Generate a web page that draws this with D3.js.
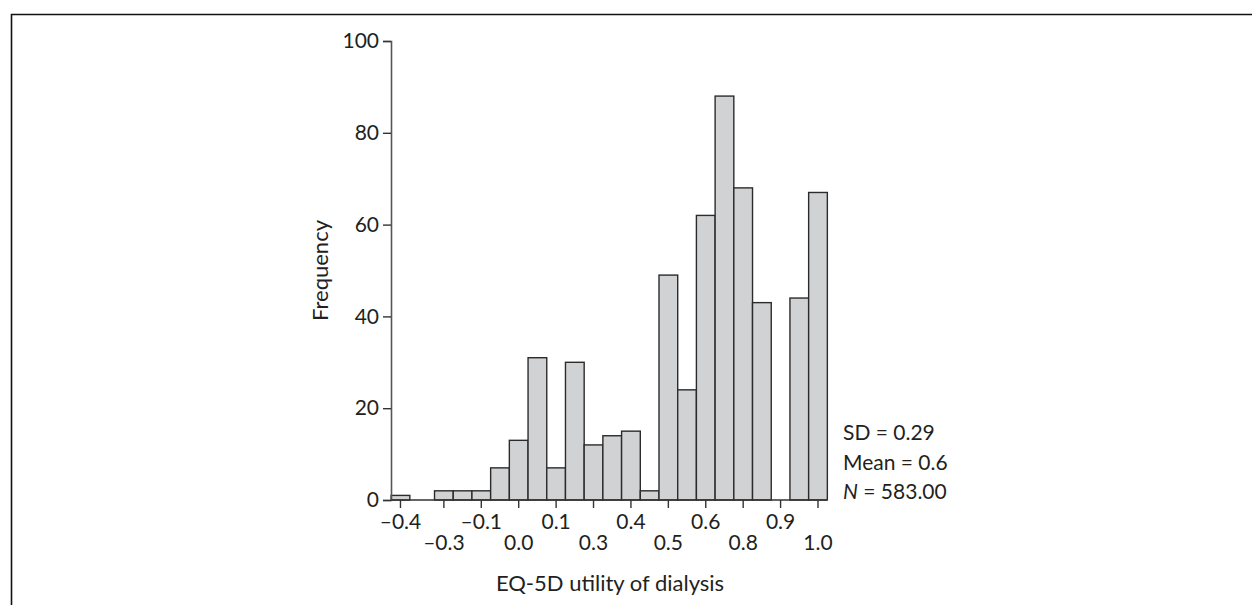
<!DOCTYPE html>
<html>
<head>
<meta charset="utf-8">
<script src="https://cdn.jsdelivr.net/npm/d3@7"></script>
<style>
  html, body { margin: 0; padding: 0; background: #fff; }
  svg { display: block; font-family: Lato, "Open Sans", sans-serif; }
</style>
</head>
<body>
<svg id="chart" width="1252" height="605"></svg>
<script>
// ---- data ----
const binCenters = [-0.395, -0.25, -0.1875, -0.125, -0.0625, 0.0, 0.0625, 0.125, 0.1875, 0.25,
                    0.3125, 0.375, 0.4375, 0.5, 0.5625, 0.625, 0.6875, 0.75, 0.8125, 0.875, 0.9375, 1.0];
const frequencies = [1, 2, 2, 2, 7, 13, 31, 7, 30, 12,
                     14, 15, 2, 49, 24, 62, 88, 68, 43, 0, 44, 67];
const binWidth = 0.0625;
const xTickValues = [-0.395, -0.25, -0.125, 0.0, 0.125, 0.25, 0.375, 0.5, 0.625, 0.75, 0.875, 1.0];
const xTickLabels = ["\u20130.4", "\u20130.3", "\u20130.1", "0.0", "0.1", "0.3", "0.4", "0.5", "0.6", "0.8", "0.9", "1.0"];
const yTickValues = [0, 20, 40, 60, 80, 100];
const yTickLabels = ["0", "20", "40", "60", "80", "100"];
const statsLines = [["SD", " = 0.29"], ["Mean", " = 0.6"], ["N", " = 583.00"]];
const xTitle = "EQ-5D utility of dialysis";
const yTitle = "Frequency";

// ---- layout ----
const svg = d3.select("#chart");
const axisX = 391;
const plotRight = 827;
const y0px = 500, y100px = 41;
const fs = 21;

const x = d3.scaleLinear().domain([0, 1]).range([518.7, 818]);
const y = d3.scaleLinear().domain([0, 100]).range([y0px, y100px]);

// frame
svg.append("path")
  .attr("d", `M11.5,605 L11.5,14.5 L1252,14.5`)
  .attr("fill", "none").attr("stroke", "#111").attr("stroke-width", 1.6);

const data = binCenters.map((c, i) => ({c, f: frequencies[i]}));

// bars
svg.append("g").selectAll("rect")
  .data(data.filter(d => d.f > 0))
  .join("rect")
  .attr("x", d => x(d.c - binWidth / 2))
  .attr("width", d => x(d.c + binWidth / 2) - x(d.c - binWidth / 2))
  .attr("y", d => y(d.f))
  .attr("height", d => y(0) - y(d.f))
  .attr("fill", "#d1d2d4")
  .attr("stroke", "#2b2b2b")
  .attr("stroke-width", 1.4);

// y axis
const yAxis = d3.axisLeft(y).tickValues(yTickValues)
  .tickFormat((d, i) => yTickLabels[i]).tickSizeOuter(0).tickSize(8).tickPadding(4);
const gy = svg.append("g").attr("transform", `translate(${axisX},0)`).call(yAxis);
gy.select(".domain").attr("stroke", "#555").attr("stroke-width", 1.6);
gy.selectAll(".tick line").attr("stroke", "#333").attr("stroke-width", 1.4);
gy.selectAll(".tick text").attr("font-size", fs).attr("fill", "#231f20")
  .attr("font-family", "Lato, sans-serif");

// x axis baseline
svg.append("line")
  .attr("x1", axisX).attr("x2", plotRight)
  .attr("y1", y(0)).attr("y2", y(0))
  .attr("stroke", "#333").attr("stroke-width", 1.6);

// x ticks
const xt = svg.append("g").selectAll("g")
  .data(xTickValues).join("g")
  .attr("transform", d => `translate(${x(d)},${y(0)})`);
xt.append("line").attr("y1", 0).attr("y2", 8).attr("stroke", "#333").attr("stroke-width", 1.4);
xt.append("text")
  .attr("text-anchor", "middle")
  .attr("y", (d, i) => i % 2 === 0 ? 29 : 50)
  .attr("font-size", fs).attr("fill", "#231f20")
  .text((d, i) => xTickLabels[i]);

// titles
svg.append("text")
  .attr("x", 610).attr("y", 591)
  .attr("text-anchor", "middle").attr("font-size", 22).attr("fill", "#231f20")
  .text(xTitle);
svg.append("text")
  .attr("transform", `translate(328,${(y0px + y100px) / 2}) rotate(-90)`)
  .attr("text-anchor", "middle").attr("font-size", 22).attr("fill", "#231f20")
  .text(yTitle);

// stats
const st = svg.append("g").selectAll("text").data(statsLines).join("text")
  .attr("x", 843).attr("y", (d, i) => 440 + i * 29.5)
  .attr("font-size", fs).attr("fill", "#231f20").attr("xml:space", "preserve");
st.append("tspan").attr("font-style", (d, i) => i === 2 ? "italic" : "normal").text(d => d[0]);
st.append("tspan").text(d => d[1]);
</script>
</body>
</html>
